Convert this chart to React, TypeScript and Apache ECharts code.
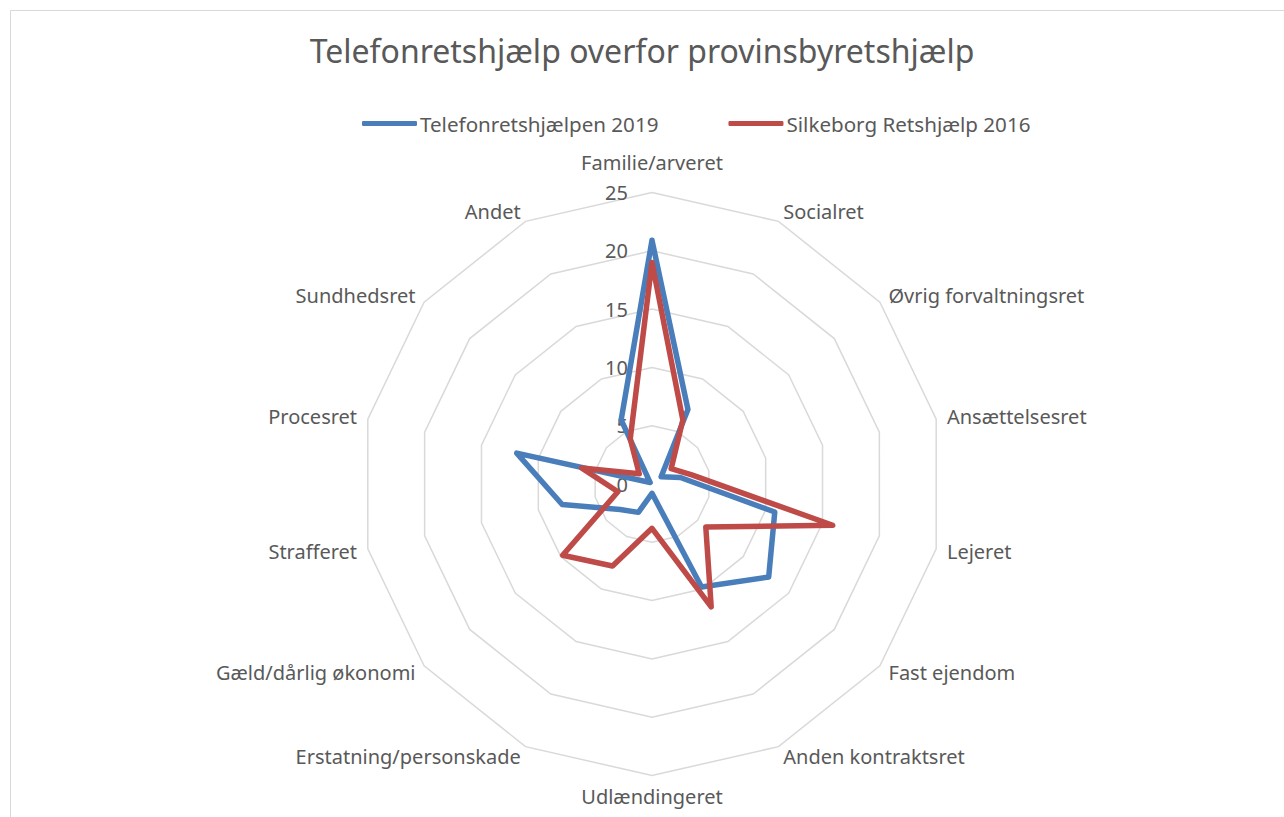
import React, { useEffect, useRef } from "react";
import * as echarts from "echarts";

const categories = [
  "Familie/arveret",
  "Socialret",
  "Øvrig forvaltningsret",
  "Ansættelsesret",
  "Lejeret",
  "Fast ejendom",
  "Anden kontraktsret",
  "Udlændingeret",
  "Erstatning/personskade",
  "Gæld/dårlig økonomi",
  "Strafferet",
  "Procesret",
  "Sundhedsret",
  "Andet",
];

const telefon2019 = [20.9, 7.1, 1.0, 2.5, 10.8, 12.8, 9.8, 0.8, 2.7, 3.5, 7.9, 11.9, 0.2, 6.1];
const silkeborg2016 = [19.0, 6.1, 2.1, 3.5, 15.9, 5.9, 11.7, 3.8, 7.8, 9.8, 3.0, 6.2, 1.4, 4.3];

const seriesNames = ["Telefonretshjælpen 2019", "Silkeborg Retshjælp 2016"];
const axisMax = 25;
const axisSplits = 5;

const FONT = "Noto Sans";
const TEXT = "#595959";
const BLUE = "#4a7ebb";
const RED = "#be4b48";

// ECharts radar goes counter-clockwise; reorder so categories run clockwise
const order = [0, ...categories.slice(1).map((_, i) => categories.length - 1 - i)];
const reorder = (arr: any[]) => order.map((i) => arr[i]);

export default function App() {
  const ref = useRef<HTMLDivElement>(null);

  useEffect(() => {
    if (!ref.current) return;
    const chart = echarts.init(ref.current, undefined, { renderer: "svg" });
    const indicator = reorder(categories).map((name, i) => {
      const ind: any = { name, min: 0, max: axisMax };
      if (i === 0) {
        ind.nameGap = 20;
        ind.axisLabel = {
          show: true,
          color: TEXT,
          fontFamily: FONT,
          fontSize: 20,
          margin: 24,
        };
      }
      return ind;
    });
    chart.setOption({
      animation: false,
      backgroundColor: "#ffffff",
      title: {
        text: "Telefonretshjælp overfor provinsbyretshjælp",
        left: "center",
        top: 29,
        textStyle: {
          color: TEXT,
          fontFamily: FONT,
          fontSize: 32,
          fontWeight: "normal",
        },
      },
      legend: {
        left: 357,
        top: 108,
        itemWidth: 55,
        itemHeight: 5,
        itemGap: 70,
        icon: "roundRect",
        data: seriesNames,
        textStyle: { color: TEXT, fontFamily: FONT, fontSize: 20.6, padding: [0, 0, 0, -2] },
      },
      graphic: [
        {
          type: "rect",
          shape: { x: 10.5, y: 10.5, width: 1300, height: 900 },
          style: { fill: "none", stroke: "#d9d9d9", lineWidth: 1 },
          silent: true,
        },
      ],
      radar: {
        center: [652, 484],
        radius: 291.5,
        startAngle: 90,
        shape: "polygon",
        splitNumber: axisSplits,
        indicator,
        nameGap: 11,
        axisName: { color: TEXT, fontFamily: FONT, fontSize: 20 },
        axisLine: { show: false },
        axisTick: { show: false },
        axisLabel: { show: false },
        splitArea: { show: false },
        splitLine: { lineStyle: { color: "#d9d9d9", width: 1.5 } },
      },
      series: [
        {
          type: "radar",
          symbol: "none",
          data: [
            {
              name: seriesNames[0],
              value: reorder(telefon2019),
              lineStyle: { color: BLUE, width: 5.5, join: "round", cap: "round" },
              itemStyle: { color: BLUE },
            },
            {
              name: seriesNames[1],
              value: reorder(silkeborg2016),
              lineStyle: { color: RED, width: 5.5, join: "round", cap: "round" },
              itemStyle: { color: RED },
            },
          ],
        },
      ],
    });
    return () => chart.dispose();
  }, []);

  return (
    <div
      ref={ref}
      style={{ position: "fixed", left: 0, top: 0, width: 1284, height: 817 }}
    />
  );
}
